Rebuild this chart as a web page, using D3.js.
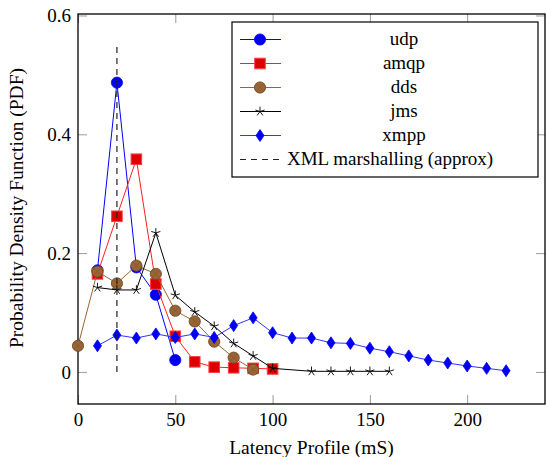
<!DOCTYPE html>
<html>
<head>
<meta charset="utf-8">
<script src="https://cdn.jsdelivr.net/npm/d3@7"></script>
<style>
  body { margin: 0; background: #fff; }
  svg text { font-family: "Liberation Serif", "Times New Roman", Times, serif; fill: #000; }
</style>
</head>
<body>
<div id="chart"></div>
<script>
// latency buckets (mS) and PDF values
const udpX = [10, 20, 30, 40, 50];
const udpY = [0.171, 0.487, 0.176, 0.130, 0.020];

const amqpX = [10, 20, 30, 40, 50, 60, 70, 80, 90, 100];
const amqpY = [0.165, 0.262, 0.358, 0.148, 0.060, 0.017, 0.008, 0.007, 0.006, 0.005];

const ddsX = [0, 10, 20, 30, 40, 50, 60, 70, 80, 90];
const ddsY = [0.044, 0.169, 0.149, 0.179, 0.165, 0.103, 0.085, 0.051, 0.024, 0.004];

const jmsX = [10, 20, 30, 40, 50, 60, 70, 80, 90, 100, 120, 130, 140, 150, 160];
const jmsY = [0.142, 0.138, 0.138, 0.234, 0.129, 0.101, 0.077, 0.048, 0.027, 0.006, 0.001, 0.001, 0.001, 0.001, 0.001];

const xmppX = [10, 20, 30, 40, 50, 60, 70, 80, 90, 100, 110, 120, 130, 140, 150, 160, 170, 180, 190, 200, 210, 220];
const xmppY = [0.044, 0.062, 0.057, 0.064, 0.058, 0.064, 0.058, 0.078, 0.091, 0.066, 0.057, 0.057, 0.049, 0.048, 0.040, 0.034, 0.027, 0.020, 0.015, 0.010, 0.006, 0.002];

const xmlX = [20, 20];
const xmlY = [0, 0.55];

const xTicks = [0, 50, 100, 150, 200];
const yTicks = [0, 0.2, 0.4, 0.6];

const width = 546, height = 457;
const margin = { top: 14, right: 1, bottom: 53, left: 78 };
const innerW = width - margin.left - margin.right;
const innerH = height - margin.top - margin.bottom;
const serif = '"Liberation Serif", "Times New Roman", Times, serif';
const fontSize = '19px';

const x = d3.scaleLinear().domain([0, 240]).range([0, innerW]);
const y = d3.scaleLinear().domain([-0.054, 0.6025]).range([innerH, 0]);

const svg = d3.select('#chart').append('svg')
  .attr('width', width)
  .attr('height', height)
  .attr('font-family', serif);

const g = svg.append('g')
  .attr('transform', 'translate(' + margin.left + ',' + margin.top + ')');

const tickLen = 9;

// ticks on all four sides, pointing inwards
const xAxis = g.append('g')
  .attr('transform', 'translate(0,' + innerH + ')')
  .call(d3.axisBottom(x).tickValues(xTicks).tickSize(-tickLen).tickPadding(9));
const xAxisTop = g.append('g')
  .call(d3.axisTop(x).tickValues(xTicks).tickSize(-tickLen).tickFormat(''));
const yAxis = g.append('g')
  .call(d3.axisLeft(y).tickValues(yTicks).tickSize(-tickLen).tickPadding(7)
    .tickFormat(d => d === 0 ? '0' : d3.format('.1f')(d)));
const yAxisRight = g.append('g')
  .attr('transform', 'translate(' + innerW + ',0)')
  .call(d3.axisRight(y).tickValues(yTicks).tickSize(-tickLen).tickFormat(''));

[xAxis, xAxisTop, yAxis, yAxisRight].forEach(a => {
  a.attr('font-family', serif).attr('font-size', fontSize);
  a.select('.domain').remove();
  a.selectAll('.tick line').attr('stroke', '#9a9a9a').attr('stroke-width', 1);
});

g.append('rect')
  .attr('width', innerW)
  .attr('height', innerH)
  .attr('fill', 'none')
  .attr('stroke', '#000')
  .attr('stroke-width', 1.3);

// axis labels
svg.append('text')
  .attr('x', margin.left + innerW / 2)
  .attr('y', 454)
  .attr('text-anchor', 'middle')
  .attr('font-size', '19.5px')
  .text('Latency Profile (mS)');

svg.append('text')
  .attr('transform', 'translate(23,' + (margin.top + innerH / 2 - 1) + ') rotate(-90)')
  .attr('text-anchor', 'middle')
  .attr('font-size', '19.5px')
  .text('Probability Density Function (PDF)');

// marker drawing helpers
function drawMarker(sel, kind, s) {
  if (kind === 'circle') {
    sel.append('circle').attr('r', 5.6).attr('fill', s.fill).attr('stroke', s.markStroke).attr('stroke-width', 0.8);
  } else if (kind === 'square') {
    sel.append('rect').attr('x', -5.3).attr('y', -5.3).attr('width', 10.6).attr('height', 10.6)
      .attr('fill', s.fill).attr('stroke', s.markStroke).attr('stroke-width', 1);
  } else if (kind === 'otimes') {
    sel.append('circle').attr('r', 5.6).attr('fill', s.fill).attr('stroke', s.markStroke).attr('stroke-width', 0.9);
    sel.append('path').attr('d', 'M-3.9,-3.9L3.9,3.9M-3.9,3.9L3.9,-3.9')
      .attr('stroke', s.markStroke).attr('stroke-width', 0.6).attr('opacity', 0.6);
  } else if (kind === 'star') {
    let d = '';
    for (let k = 0; k < 5; k++) {
      const a = -Math.PI / 2 + k * 2 * Math.PI / 5;
      d += 'M0,0L' + (4.8 * Math.cos(a)).toFixed(2) + ',' + (4.8 * Math.sin(a)).toFixed(2);
    }
    sel.append('path').attr('d', d).attr('stroke', '#000').attr('stroke-width', 0.9).attr('fill', 'none');
  } else if (kind === 'diamond') {
    sel.append('path').attr('d', 'M0,-6L4,0L0,6L-4,0Z')
      .attr('fill', s.fill).attr('stroke', s.markStroke).attr('stroke-width', 0.8);
  }
}

const series = [
  { name: 'udp', xs: udpX, ys: udpY, line: '#0000ff', fill: '#0000ee', markStroke: '#0000ff', mark: 'circle' },
  { name: 'amqp', xs: amqpX, ys: amqpY, line: '#ff2020', fill: '#dd0000', markStroke: '#ff4040', mark: 'square' },
  { name: 'dds', xs: ddsX, ys: ddsY, line: '#996633', fill: '#9a6534', markStroke: '#6e4a26', mark: 'otimes' },
  { name: 'jms', xs: jmsX, ys: jmsY, line: '#000000', fill: '#000', markStroke: '#000', mark: 'star' },
  { name: 'xmpp', xs: xmppX, ys: xmppY, line: '#3333ff', fill: '#0000ee', markStroke: '#0000ff', mark: 'diamond' }
];

const line = d3.line().x(d => x(d[0])).y(d => y(d[1]));

series.forEach(s => {
  const pts = s.xs.map((v, i) => [v, s.ys[i]]);
  g.append('path')
    .datum(pts)
    .attr('d', line)
    .attr('fill', 'none')
    .attr('stroke', s.line)
    .attr('stroke-width', 1);
  g.selectAll(null)
    .data(pts)
    .enter()
    .append('g')
    .attr('transform', d => 'translate(' + x(d[0]) + ',' + y(d[1]) + ')')
    .each(function() { drawMarker(d3.select(this), s.mark, s); });
});

// XML marshalling marker line
g.append('path')
  .datum(xmlX.map((v, i) => [v, xmlY[i]]))
  .attr('d', line)
  .attr('fill', 'none')
  .attr('stroke', '#222')
  .attr('stroke-width', 1.2)
  .attr('stroke-dasharray', '6,5');

// legend
const legend = svg.append('g').attr('transform', 'translate(232,22)');
legend.append('rect')
  .attr('width', 306)
  .attr('height', 155)
  .attr('fill', '#fff')
  .attr('stroke', '#000')
  .attr('stroke-width', 1.2);

const rowH = 24;
series.forEach((s, i) => {
  const row = legend.append('g').attr('transform', 'translate(0,' + (17.5 + i * rowH) + ')');
  row.append('line').attr('x1', 8).attr('x2', 49).attr('stroke', s.line).attr('stroke-width', 1);
  drawMarker(row.append('g').attr('transform', 'translate(28,0)'), s.mark, s);
  row.append('text')
    .attr('x', 172)
    .attr('y', 5)
    .attr('text-anchor', 'middle')
    .attr('font-size', fontSize)
    .text(s.name);
});
const xmlRow = legend.append('g').attr('transform', 'translate(0,' + (17.5 + 5 * rowH) + ')');
xmlRow.append('line').attr('x1', 8).attr('x2', 49)
  .attr('stroke', '#222').attr('stroke-width', 1.2).attr('stroke-dasharray', '6,5');
xmlRow.append('text')
  .attr('x', 55)
  .attr('y', 5)
  .attr('font-size', fontSize)
  .text('XML marshalling (approx)');
</script>
</body>
</html>
